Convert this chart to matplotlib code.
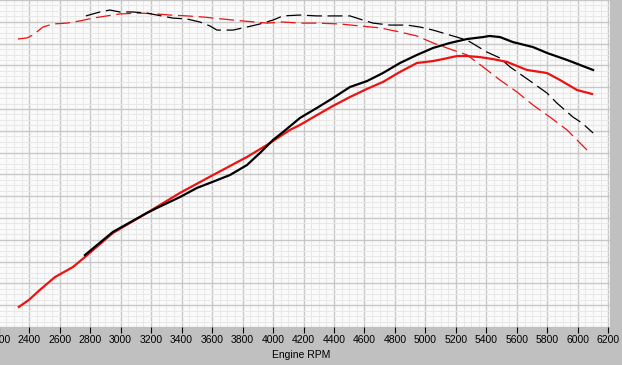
import matplotlib
matplotlib.use("Agg")
import matplotlib.pyplot as plt
from matplotlib.ticker import MultipleLocator

# Data (hidden y-scale, 0..150)
red_power_rpm = [2332, 2398, 2470, 2569, 2687, 2766, 2949, 3172, 3389, 3606, 3829, 3960, 4111, 4177,
                 4288, 4393, 4505, 4616, 4721, 4833, 4944, 5050, 5115, 5207, 5273, 5358, 5443, 5535,
                 5666, 5798, 5883, 5995, 6093]
red_power = [9.2, 12.4, 17.0, 22.9, 27.5, 32.1, 43.1, 52.3, 61.5, 69.7, 78.0, 83.5, 90.4, 92.7,
             97.2, 101.4, 105.5, 109.2, 112.4, 117.0, 121.1, 122.0, 122.9, 124.3, 124.3, 123.8, 122.9, 121.6,
             117.9, 116.5, 113.3, 108.7, 106.9]

black_power_rpm = [2766, 2949, 3172, 3238, 3389, 3501, 3586, 3717, 3829, 3914, 4000, 4065, 4177, 4288,
                   4393, 4505, 4616, 4721, 4833, 4944, 5050, 5161, 5273, 5378, 5420, 5489, 5574, 5706,
                   5798, 5929, 6100]
black_power = [33.0, 43.6, 52.3, 54.6, 59.6, 63.8, 66.1, 69.7, 74.3, 79.8, 85.8, 89.4, 95.9, 100.5,
               105.0, 110.1, 112.8, 116.5, 121.1, 124.8, 128.0, 130.3, 132.1, 133.0, 133.5, 133.0, 130.7, 128.4,
               125.7, 122.5, 117.9]

black_torque_rpm = [2772, 2864, 2930, 2995, 3081, 3172, 3238, 3343, 3435, 3520, 3586, 3632, 3737, 3829,
                    3914, 4000, 4065, 4177, 4288, 4393, 4505, 4590, 4656, 4767, 4879, 4964, 5050, 5161,
                    5273, 5404, 5489, 5555, 5706, 5798, 5863, 5968, 6027, 6100]
black_torque = [142.7, 144.5, 145.4, 144.5, 144.5, 144.0, 143.1, 141.7, 141.3, 139.9, 138.1, 136.2, 136.2, 137.6,
                139.0, 140.8, 142.7, 143.1, 142.7, 142.7, 142.7, 140.8, 139.4, 138.5, 138.5, 137.6, 136.2, 133.9,
                131.6, 126.1, 123.4, 119.3, 111.9, 107.3, 102.7, 96.3, 93.6, 89.0]

red_torque_rpm = [2326, 2385, 2424, 2490, 2556, 2647, 2733, 2818, 2910, 2995, 3127, 3238, 3323, 3435,
                  3540, 3737, 3960, 4065, 4177, 4288, 4439, 4570, 4702, 4833, 4944, 5050, 5161, 5273,
                  5378, 5489, 5601, 5706, 5817, 5929, 6060]
red_torque = [132.1, 132.6, 133.9, 137.6, 139.0, 139.4, 140.4, 141.7, 142.7, 143.6, 144.0, 143.6, 143.1, 142.7,
              142.2, 140.8, 139.4, 139.9, 139.4, 139.4, 139.0, 138.1, 137.2, 135.3, 133.5, 130.3, 127.5, 124.8,
              119.3, 113.3, 107.8, 101.8, 96.3, 90.4, 81.2]

x_ticks = list(range(2200, 6201, 200))

W, H = 622, 365
fig = plt.figure(figsize=(W / 100, H / 100), dpi=100, facecolor='#c0c0c0')
ax = fig.add_axes([-1.3 / W, (H - 327) / H, 611.3 / W, 327 / H])
ax.set_facecolor('#fafafa')

ax.set_xlim(2200, 6211)
ax.set_ylim(0, 150)
ax.set_xticks(x_ticks)
ax.xaxis.set_minor_locator(MultipleLocator(50))
ax.yaxis.set_major_locator(MultipleLocator(10))
ax.yaxis.set_minor_locator(MultipleLocator(2.5))
ax.grid(which='major', color='#c8c8c8', linewidth=1.0)
ax.grid(which='minor', color='#e8e8e8', linewidth=0.7)
ax.set_axisbelow(True)
for s in ax.spines.values():
    s.set_visible(False)

ax.tick_params(axis='y', which='both', length=0, labelleft=False)
ax.tick_params(axis='x', which='major', direction='out', length=4, width=0.8, color='black',
               pad=2, labelsize=7.5, labelcolor='black')
ax.tick_params(axis='x', which='minor', length=0)
for lab in ax.get_xticklabels():
    lab.set_family('Liberation Sans')

ax.plot(red_torque_rpm, red_torque, color='#ee1111', linewidth=0.9, dashes=(12, 4.5))
ax.plot(black_torque_rpm, black_torque, color='black', linewidth=0.9, dashes=(12, 4.5))
ax.plot(red_power_rpm, red_power, color='#ee1111', linewidth=1.6)
ax.plot(black_power_rpm, black_power, color='black', linewidth=1.6)

fig.text(301 / W, 1 - 355 / H, 'Engine RPM', ha='center', va='center',
         fontsize=7.5, family='Liberation Sans', color='black')

fig.savefig('out.png', dpi=100, facecolor=fig.get_facecolor())
